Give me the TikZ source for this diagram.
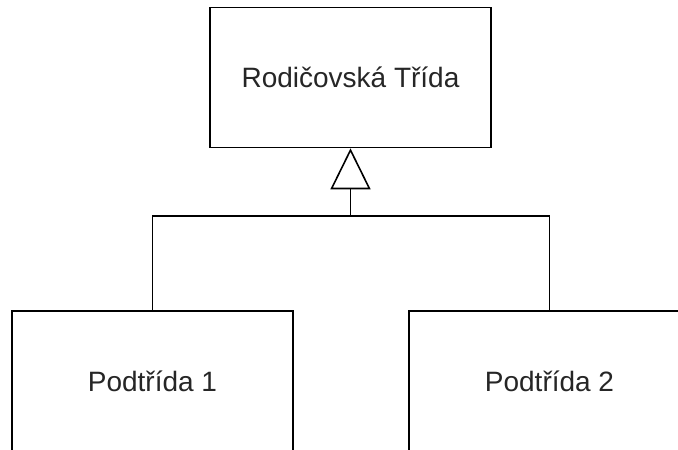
\documentclass[tikz,border=0pt]{standalone}
\usepackage{fontspec}
\setmainfont{Liberation Sans}
\usetikzlibrary{arrows.meta}
\begin{document}
\begin{tikzpicture}[x=1pt,y=-1pt,
  classbox/.style={draw, line width=1.6pt, minimum width=281pt, minimum height=140pt,
    inner sep=0pt, font=\fontsize{28}{31}\selectfont, text=black!85},
  link/.style={line width=1.6pt}]
  \useasboundingbox (0,0) rectangle (678,450);
  \clip (0,0) rectangle (678,450);
  \node[classbox] (parent) at (350.5,77.5) {Rodičovská Třída};
  \node[classbox] (sub1) at (152.5,381) {Podtřída 1};
  \node[classbox] (sub2) at (549.5,381) {Podtřída 2};
  \coordinate (join) at (350.5,216);
  \draw[link] (sub1.north) |- (join) -| (sub2.north);
  \draw[link, -{Triangle[open, width=40pt, length=41pt, line width=1.6pt]}] (join) -- (parent.south);
\end{tikzpicture}
\end{document}
